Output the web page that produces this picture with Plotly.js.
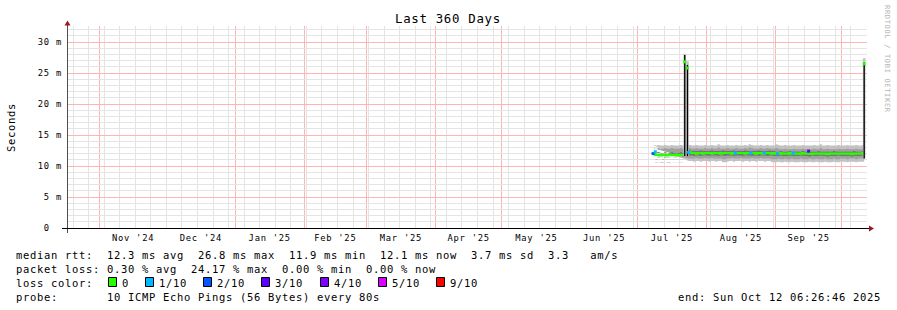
<!DOCTYPE html>
<html><head><meta charset="utf-8">
<script src="https://cdn.plot.ly/plotly-3.0.1.min.js"></script>
<style>
html,body{margin:0;padding:0;background:#fff;}
#chart{width:897px;height:310px;}
text.annotation-text{letter-spacing:0.68px;}
#chart .xtick text,#chart .ytick text{letter-spacing:0.75px;}
#chart path[class*="grid"]{shape-rendering:crispEdges;}
#chart .layer-below path{shape-rendering:crispEdges;}
</style></head><body><div id="chart"></div><script>
// ---- time axis of the data (daily steps, 2025-07-08 .. 2025-10-11) ----
const firstDay = [2025, 6, 8];
const dayCount = 96;

// ---- median RTT (ms) ----
const median = [
 11.9,11.8,11.8,11.7,11.8,11.8,11.7,11.8,11.8,11.8,11.7,11.8,11.8,11.8,11.8,
 null,
 12.2,12.1,12.1,12.0,12.1,12.1,12.0,12.1,
 12.1,12.1,12.0,12.1,12.1,12.1,12.0,12.1,12.1,12.1,12.1,12.0,12.1,12.1,12.1,12.1,12.1,12.0,12.1,12.1,12.1,12.1,12.0,12.1,12.1,12.0,12.1,12.1,12.1,12.0,12.1,
 12.0,12.0,12.1,12.0,12.0,12.0,12.1,12.0,12.0,12.0,12.0,12.0,12.1,12.0,12.0,12.0,11.9,12.0,12.0,12.0,12.0,12.0,12.0,11.9,12.0,12.0,12.0,12.0,12.0,12.0,
 12.0,12.0,12.0,12.0,11.9,12.0,12.0,12.0,12.0,12.1,12.1
];
// ---- smoke: outer envelope ----
const smokeOuterHi = [
 13.4,13.3,13.4,13.3,13.3,13.4,13.3,13.3,13.4,13.3,13.3,13.3,13.4,13.3,13.4,
 null,
 13.4,13.3,13.3,13.4,13.3,13.3,13.3,13.4,
 13.3,13.3,13.4,13.3,13.3,13.5,13.3,13.3,13.3,13.4,13.3,13.3,13.3,13.4,13.3,13.3,13.3,13.4,13.3,13.5,13.4,13.3,13.3,13.3,13.4,13.3,13.3,13.4,13.3,13.3,13.3,
 13.5,13.4,13.3,13.3,13.4,13.3,13.3,13.3,13.4,13.3,13.3,13.3,13.4,13.3,13.3,13.3,13.3,13.4,13.3,13.3,13.5,13.3,13.3,13.4,13.3,13.3,13.3,13.3,13.4,13.3,
 13.3,13.3,13.4,13.3,13.3,13.3,13.4,13.3,13.3,13.4,13.5
];
const smokeOuterLo = [
 10.5,10.6,10.5,10.6,10.6,10.5,10.6,10.6,10.5,10.6,10.6,10.6,10.5,10.6,10.6,
 null,
 10.8,10.8,10.7,10.8,10.8,10.7,10.8,10.8,
 10.8,10.7,10.8,10.8,10.7,10.8,10.8,10.6,10.6,10.7,10.8,10.8,10.7,10.8,10.8,10.8,10.7,10.8,10.8,10.7,10.8,10.8,10.7,10.8,10.8,10.8,10.7,10.8,10.8,10.6,10.6,
 10.6,10.7,10.6,10.6,10.7,10.6,10.6,10.7,10.6,10.6,10.6,10.7,10.6,10.6,10.6,10.7,10.6,10.6,10.7,10.6,10.6,10.6,10.7,10.6,10.6,10.6,10.7,10.6,10.6,10.7,
 10.7,10.7,10.6,10.7,10.7,10.7,10.6,10.7,10.7,10.7,10.7
];
// ---- smoke: middle layer ----
const smokeMidHi = [
 12.9,12.8,12.9,12.8,12.8,12.9,12.8,12.8,12.9,12.8,12.8,12.8,12.9,12.8,12.9,
 null,
 12.9,12.8,12.8,12.9,12.8,12.8,12.8,12.9,
 12.8,12.8,12.9,12.8,12.8,13.0,12.8,12.8,12.8,12.9,12.8,12.8,12.8,12.9,12.8,12.8,12.8,12.9,12.8,13.0,12.9,12.8,12.8,12.8,12.9,12.8,12.8,12.9,12.8,12.8,12.8,
 12.9,12.8,12.7,12.7,12.8,12.7,12.7,12.7,12.8,12.7,12.7,12.7,12.8,12.7,12.7,12.7,12.7,12.8,12.7,12.7,12.9,12.7,12.7,12.8,12.7,12.7,12.7,12.7,12.8,12.7,
 12.7,12.7,12.8,12.7,12.7,12.7,12.8,12.7,12.7,12.8,12.9
];
const smokeMidLo = [
 11.0,11.1,11.0,11.0,11.1,11.0,11.0,11.1,11.0,11.0,11.1,11.0,11.0,11.1,11.1,
 null,
 11.2,11.2,11.2,11.3,11.2,11.2,11.2,11.3,
 11.2,11.2,11.3,11.2,11.2,11.2,11.2,11.1,11.1,11.2,11.2,11.3,11.2,11.2,11.2,11.3,11.2,11.2,11.2,11.2,11.3,11.2,11.2,11.2,11.3,11.2,11.2,11.2,11.2,11.1,11.1,
 11.1,11.2,11.1,11.1,11.2,11.1,11.1,11.2,11.1,11.1,11.1,11.2,11.1,11.1,11.1,11.2,11.1,11.1,11.2,11.1,11.1,11.1,11.2,11.1,11.1,11.1,11.2,11.1,11.1,11.2,
 11.2,11.2,11.1,11.2,11.2,11.2,11.1,11.2,11.2,11.2,11.1
];
// ---- smoke: inner (dense) layer ----
const smokeInnerHi = [
 12.2,12.1,12.2,12.0,12.1,12.2,12.0,12.1,12.2,12.1,12.0,12.1,12.2,12.1,12.2,
 null,
 12.5,12.4,12.4,12.4,12.4,12.5,12.4,12.4,
 12.4,12.4,12.5,12.4,12.4,12.4,12.4,12.5,12.4,12.4,12.4,12.4,12.5,12.4,12.4,12.4,12.4,12.5,12.4,12.4,12.4,12.4,12.4,12.5,12.4,12.4,12.4,12.4,12.5,12.4,12.4,
 12.3,12.3,12.4,12.3,12.3,12.3,12.4,12.3,12.3,12.3,12.3,12.3,12.4,12.3,12.3,12.3,12.3,12.3,12.3,12.4,12.3,12.3,12.3,12.3,12.3,12.3,12.4,12.3,12.3,12.3,
 12.3,12.3,12.3,12.3,12.3,12.4,12.3,12.3,12.3,12.4,12.4
];
const smokeInnerLo = [
 11.4,11.4,11.5,11.4,11.4,11.5,11.4,11.4,11.5,11.4,11.4,11.5,11.4,11.4,11.5,
 null,
 11.7,11.7,11.6,11.7,11.7,11.6,11.7,11.7,
 11.7,11.6,11.7,11.7,11.7,11.6,11.7,11.7,11.6,11.7,11.7,11.7,11.6,11.7,11.7,11.7,11.6,11.7,11.7,11.7,11.6,11.7,11.7,11.6,11.7,11.7,11.7,11.6,11.7,11.7,11.6,
 11.6,11.6,11.7,11.6,11.6,11.6,11.7,11.6,11.6,11.6,11.6,11.7,11.6,11.6,11.6,11.5,11.6,11.6,11.6,11.6,11.7,11.6,11.6,11.5,11.6,11.6,11.6,11.6,11.7,11.6,
 11.6,11.6,11.6,11.6,11.5,11.6,11.6,11.6,11.6,11.7,11.7
];
// ---- latency spikes ----
const spikeDates  = ['2025-07-22 06:00', '2025-07-23 11:30', '2025-10-11 00:00'];
const spikeBase   = [11.6, 11.6, 11.2];
const spikeMax    = [27.9, 26.3, 26.7];
const spikeSmoke  = [28.1, 26.9, 27.4];
const spikeMedian = [26.8, 25.8, 26.5];
// ---- packet-loss coloured median samples ----
const lossDates  = ['2025-07-08','2025-07-09','2025-07-24','2025-08-14','2025-08-21','2025-08-27','2025-09-02','2025-09-09','2025-09-16'];
const lossLevel  = [2, 1, 1, 1, 1, 1, 1, 1, 3];
const lossMedian = [12.0, 12.3, 12.2, 12.1, 12.1, 12.1, 12.0, 12.1, 12.4];
// ---- legend ----
const lossLabels = ['0', '1/10', '2/10', '3/10', '4/10', '5/10', '9/10'];
const lossColors = ['#26ff00', '#00b8ff', '#0059ff', '#5e00ff', '#7e00ff', '#dd00ff', '#ff0000'];
const legendRtt  = 'median rtt:  12.3 ms avg  26.8 ms max  11.9 ms min  12.1 ms now  3.7 ms sd  3.3   am/s';
const legendLoss = 'packet loss: 0.30 % avg  24.17 % max  0.00 % min  0.00 % now';
const legendLossColor = 'loss color:';
const legendProbe = 'probe:       10 ICMP Echo Pings (56 Bytes) every 80s';
const legendEnd   = 'end: Sun Oct 12 06:26:46 2025';
const yTickVals = [0, 5, 10, 15, 20, 25, 30];
const yTickText = ['0\u00a0\u00a0', '5 m', '10 m', '15 m', '20 m', '25 m', '30 m'];

// ---------------------------------------------------------------
const DAY = 864e5;
const iso = t => new Date(t).toISOString().slice(0, 10);
const days = [];
for (let i = 0; i < dayCount; i++) days.push(iso(Date.UTC(firstDay[0], firstDay[1], firstDay[2]) + i * DAY));
// weekly minor grid (Sundays) and monthly major grid
const weekLines = [];
for (let t = Date.UTC(2024, 9, 20); t < Date.UTC(2025, 9, 13); t += 7 * DAY) weekLines.push(iso(t));
const monthLines = [];
for (let m = 0; m < 12; m++) monthLines.push(iso(Date.UTC(2024, 10 + m, 1)));

const L = 67, W = 800, B = 228, H = 202;
const px = x => (x - L) / W;
const py = y => (B - y) / H;
const nb = s => s.replace(/ /g, '\u00a0');

function band(lo, hi, color) {
  return [
    {x: days, y: lo, type: 'scatter', mode: 'lines', line: {width: 0, shape: 'hv'}, hoverinfo: 'skip', showlegend: false},
    {x: days, y: hi, type: 'scatter', mode: 'lines', line: {width: 0, shape: 'hv'}, fill: 'tonexty', fillcolor: color, hoverinfo: 'skip', showlegend: false}
  ];
}
const traces = [];
traces.push(...band(smokeOuterLo, smokeOuterHi, '#c2c2c2'));
traces.push(...band(smokeMidLo, smokeMidHi, '#a0a0a0'));
traces.push(...band(smokeInnerLo, smokeInnerHi, '#767676'));
traces.push({x: days, y: median, type: 'scatter', mode: 'lines', line: {color: lossColors[0], width: 2.2, shape: 'hv'}, showlegend: false});

const sx = [], sSmoke = [], sLine = [];
spikeDates.forEach((d, i) => {
  sx.push(d, d, null);
  sSmoke.push(spikeBase[i], spikeSmoke[i], null);
  sLine.push(spikeBase[i], spikeMax[i], null);
});
traces.push({x: sx, y: sSmoke, type: 'scatter', mode: 'lines', line: {color: '#c4c4c4', width: 2.6}, connectgaps: false, showlegend: false});
traces.push({x: sx, y: sLine, type: 'scatter', mode: 'lines', line: {color: '#000000', width: 1.3}, connectgaps: false, showlegend: false});
traces.push({x: spikeDates, y: spikeMedian, type: 'scatter', mode: 'markers', marker: {symbol: 'square', size: 3, color: lossColors[0]}, showlegend: false});
traces.push({x: lossDates, y: lossMedian, type: 'scatter', mode: 'markers',
  marker: {symbol: 'square', size: 3, color: lossLevel.map(l => lossColors[l])}, showlegend: false});

const mono = 'DejaVu Sans Mono';
const ann = [];
function text(t, x, y, size, opts) {
  ann.push(Object.assign({text: nb(t), x: px(x), y: py(y), xref: 'paper', yref: 'paper', xanchor: 'left', yanchor: 'middle',
    showarrow: false, borderpad: 0, borderwidth: 0, font: {family: mono, size: size, color: '#000'}}, opts || {}));
}
text('Last 360 Days', 448, 19, 12.4, {xanchor: 'center'});
text('Seconds', 11, 127, 10.5, {xanchor: 'center', textangle: -90});
text('RRDTOOL / TOBI OETIKER', 887, 59, 7, {xanchor: 'center', textangle: 90, font: {family: mono, size: 7, color: '#b4b4b4'}});
text(legendRtt, 16, 255, 10.5);
text(legendLoss, 16, 269, 10.5);
text(legendLossColor, 16, 282.5, 10.5);
text(legendProbe, 16, 296.5, 10.5);
text(legendEnd, 678, 296.5, 10.5);

const majorGrid = '#ffb4b4';
const minorGrid = '#e4e4e4';
const swatchX = [108, 145, 203, 261, 320, 378, 436];
const shapes = [];
// monthly major grid lines
monthLines.forEach(d => shapes.push({type: 'line', xref: 'x', yref: 'paper', x0: d, x1: d, y0: 0, y1: 1,
  line: {color: majorGrid, width: 1}, layer: 'below'}));
lossLabels.forEach((lab, i) => {
  shapes.push({type: 'rect', xref: 'paper', yref: 'paper', x0: px(swatchX[i] + 0.5), x1: px(swatchX[i] + 8.5), y0: py(277.5), y1: py(286.5),
    fillcolor: lossColors[i], line: {color: '#000', width: 1}, layer: 'above'});
  text(lab, swatchX[i] + 14, 282.5, 10.5);
});
// axes with arrows
shapes.push({type: 'line', xref: 'paper', yref: 'paper', x0: px(67.5), x1: px(67.5), y0: py(233), y1: py(24), line: {color: '#505050', width: 1}, layer: 'above'});
shapes.push({type: 'line', xref: 'paper', yref: 'paper', x0: px(62), x1: px(870), y0: py(228.5), y1: py(228.5), line: {color: '#000', width: 1}, layer: 'above'});
shapes.push({type: 'path', xref: 'paper', yref: 'paper', layer: 'above',
  path: `M${px(64.5)},${py(25.5)} L${px(70.5)},${py(25.5)} L${px(67.5)},${py(20.5)} Z`, fillcolor: '#9a1a1a', line: {width: 0}});
shapes.push({type: 'path', xref: 'paper', yref: 'paper', layer: 'above',
  path: `M${px(869)},${py(225.5)} L${px(869)},${py(231.5)} L${px(874)},${py(228.5)} Z`, fillcolor: '#9a1a1a', line: {width: 0}});

const layout = {
  width: 897, height: 310,
  margin: {l: L, r: 897 - L - W, t: 26, b: 310 - 26 - H},
  paper_bgcolor: '#fff', plot_bgcolor: '#fff',
  showlegend: false,
  xaxis: {
    type: 'date', range: ['2024-10-17 06:26:46', '2025-10-12 06:26:46'],
    dtick: 'M1', tick0: '2024-11-01', ticklabelmode: 'period', tickformat: "%b '%y",
    ticks: '', showline: false, zeroline: false,
    showgrid: false,
    minor: {tickmode: 'array', tickvals: weekLines, showgrid: true, gridcolor: minorGrid, gridwidth: 1},
    tickfont: {family: mono, size: 8.8, color: '#000'},
    ticklabelstandoff: 3,
    fixedrange: true
  },
  yaxis: {
    range: [0, H / 6.2],
    tickvals: yTickVals, ticktext: yTickText,
    ticks: '', showline: false, zeroline: false,
    showgrid: true, gridcolor: majorGrid, gridwidth: 1,
    minor: {dtick: 1, showgrid: true, gridcolor: minorGrid, gridwidth: 1},
    tickfont: {family: mono, size: 8.8, color: '#000'},
    ticklabelstandoff: 4,
    fixedrange: true
  },
  annotations: ann,
  shapes: shapes
};
Plotly.newPlot('chart', traces, layout, {staticPlot: true, displayModeBar: false});
</script></body></html>
